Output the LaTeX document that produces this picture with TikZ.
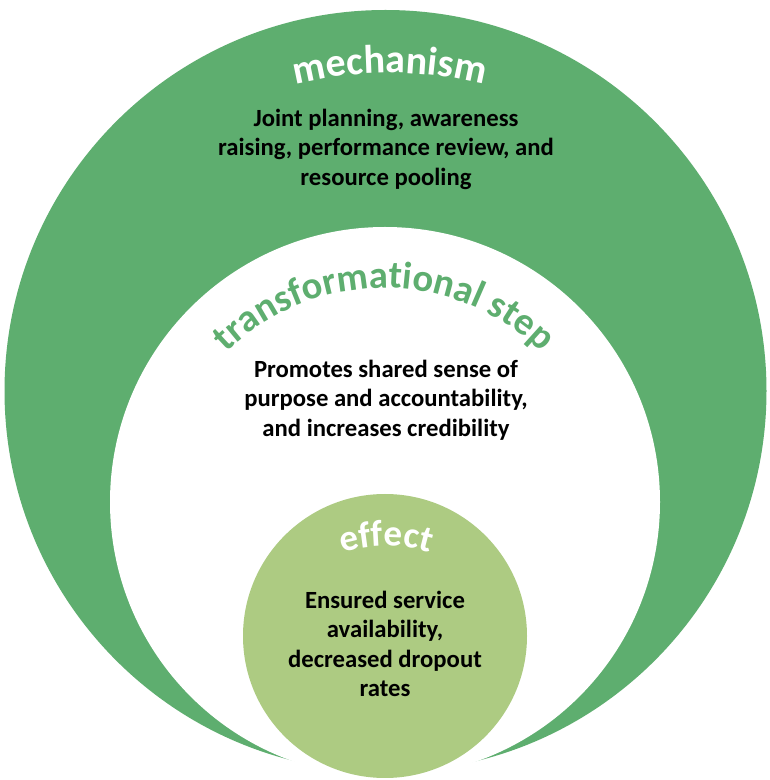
\documentclass[tikz,border=0pt]{standalone}
\usepackage{fontspec}
\setmainfont{Carlito}
\usetikzlibrary{positioning, calc, decorations.text}
\definecolor{mechgreen}{RGB}{94,174,111}
\definecolor{effgreen}{RGB}{173,203,130}
\tikzstyle{Heading} = [
    decorate,
    decoration={
        text along path,
        text align=center,
        text format delimiters={|}{|}
    }
]

\begin{document}
\begin{tikzpicture}[
x=1pt, y=1pt,
body/.style={
    align=center,
    inner sep=0pt,
    text=black,
    font=\fontsize{24.7}{29.5}\selectfont\bfseries
    }
]

\useasboundingbox (0,0) rectangle (770,780);
\fill[white] (0,0) rectangle (770,780);

\coordinate (outer) at (385.5,389);
\coordinate (inner) at (385,278);
\coordinate (core) at (385,144);
\coordinate (mecharc) at (390,322);
\coordinate (steparc) at (384,268);
\coordinate (effarc) at (386,84);

\fill[mechgreen] (outer) circle[radius=381];
\fill[white] (inner) circle[radius=275];
\fill[effgreen] (core) circle[radius=142];

\path[Heading, decoration={text color=white,
    text={|\fontsize{40}{40}\selectfont\bfseries|mechanism}}]
    ([shift={(125:385)}]mecharc) arc[start angle=125, end angle=55, radius=385];
\path[Heading, decoration={text color=mechgreen,
    text={|\fontsize{38.5}{38.5}\selectfont\bfseries|transformational step}}]
    ([shift={(170:224)}]steparc) arc[start angle=170, end angle=10, radius=224];
\path[Heading, decoration={text color=white,
    text={|\fontsize{37}{37}\selectfont\bfseries|effect}}]
    ([shift={(130:150)}]effarc) arc[start angle=130, end angle=50, radius=150];

\node[body] (mechtext) at (386,631) {Joint planning, awareness\\raising, performance review, and\\resource pooling};
\node[body] (steptext) at (386,380) {Promotes shared sense of\\purpose and accountability,\\and increases credibility};
\node[body] (efftext) at (385,136) {Ensured service\\availability,\\decreased dropout\\rates};

\end{tikzpicture}
\end{document}
